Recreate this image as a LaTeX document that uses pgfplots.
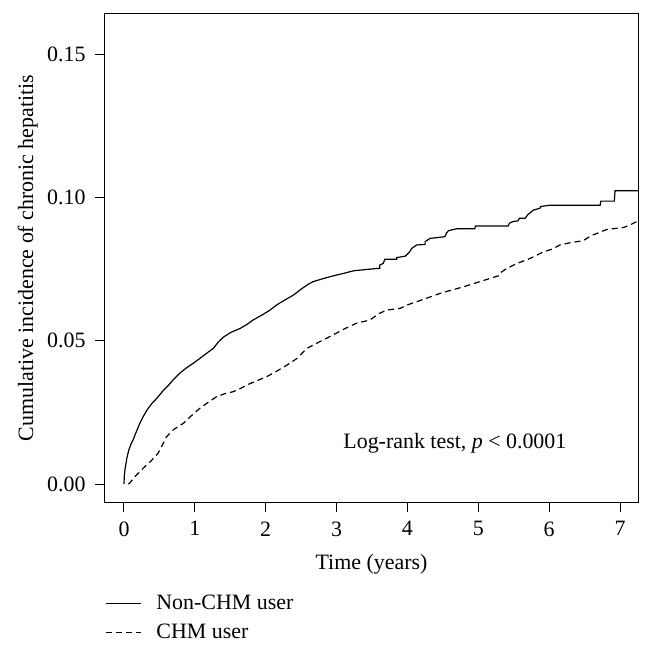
\documentclass[border=0pt]{standalone}
\usepackage{fontspec}
\setmainfont{Liberation Serif}
\usepackage{pgfplots}
\pgfplotsset{compat=1.18}
\begin{document}
\begin{tikzpicture}[font=\fontsize{22}{26}\selectfont]
\useasboundingbox (-105bp,-148bp) rectangle (548bp,502bp);
\begin{axis}[
  at={(0,0)}, anchor=south west,
  width=533bp, height=488bp, scale only axis,
  xmin=-0.268, xmax=7.254, ymin=-0.00628, ymax=0.164,
  xtick={0,1,2,3,4,5,6,7},
  ytick={0,0.05,0.10,0.15},
  scaled y ticks=false,
  yticklabel style={xshift=-6bp, /pgf/number format/.cd, fixed, fixed zerofill, precision=2},
  /pgf/number format/assume math mode=true,
  xticklabel style={yshift=-6bp},
  tick align=outside, major tick length=10bp,
  tick pos=left,
  axis line style={line width=1bp},
  tick style={line width=1bp, black},
  xlabel={Time (years)},
  xlabel style={at={(axis description cs:0.5,-0.1373)}, anchor=base},
  ylabel={Cumulative incidence of chronic hepatitis},
  ylabel style={at={(axis description cs:-0.135,0.5)}, anchor=base},
  legend cell align=left,
  legend style={draw=none, fill=none, at={(axis description cs:0,-0.1885)}, anchor=north west,
    inner sep=0pt, row sep=10bp, column sep=15bp,
    nodes={inner sep=0pt, text height=15bp, text depth=4bp}},
  legend image code/.code={\draw[#1] (0bp,0bp) -- (35bp,0bp);},
]
\addplot[black, line width=1.2bp, sharp plot] coordinates {
(0,0) (0.005,0.003) (0.02,0.006) (0.04,0.009) (0.07,0.012) (0.10,0.014) (0.13,0.0155)
(0.17,0.018) (0.22,0.021) (0.27,0.0235) (0.33,0.026) (0.39,0.028) (0.44,0.0293)
(0.5,0.031) (0.56,0.0328) (0.63,0.0345) (0.70,0.0365) (0.78,0.0385) (0.88,0.0405)
(0.97,0.042) (1.07,0.0438) (1.16,0.0455) (1.26,0.0473) (1.33,0.0495) (1.40,0.0512)
(1.50,0.0528) (1.64,0.0543) (1.73,0.0556) (1.82,0.0572) (1.95,0.0590) (2.05,0.0605)
(2.15,0.0624) (2.27,0.0642) (2.39,0.0659) (2.5,0.0680) (2.6,0.0697) (2.67,0.0706)
(2.8,0.0716) (2.95,0.0726) (3.1,0.0735) (3.24,0.0744) (3.4,0.0748) (3.57,0.0752)
(3.61,0.0752) (3.61,0.0764) (3.66,0.0770) (3.68,0.0784) (3.85,0.0784) (3.85,0.0790)
(3.97,0.0795) (4.03,0.0810) (4.06,0.0822) (4.13,0.0834) (4.25,0.0836) (4.25,0.0846)
(4.32,0.0857) (4.53,0.0863) (4.55,0.0875) (4.58,0.0884) (4.70,0.0891) (4.95,0.0891)
(4.96,0.0900) (5.42,0.0900) (5.44,0.0910) (5.49,0.0916) (5.56,0.0918) (5.58,0.0927)
(5.66,0.0927) (5.70,0.0940) (5.78,0.0956) (5.87,0.0962) (5.88,0.0968) (6.01,0.0973)
(6.72,0.0973) (6.73,0.0987) (6.92,0.0987) (6.93,0.1023) (7.254,0.1023)
};
\addlegendentry{Non-CHM user}
\addplot[black, line width=1.2bp, dash pattern=on 6bp off 4bp, sharp plot] coordinates {
(0.06,0) (0.08,0.0003) (0.15,0.0025) (0.27,0.0055) (0.38,0.008) (0.48,0.0107)
(0.55,0.014) (0.60,0.0165) (0.70,0.019) (0.84,0.0212) (0.95,0.0238) (1.07,0.0264)
(1.2,0.0287) (1.31,0.0305) (1.42,0.0315) (1.54,0.0322) (1.65,0.0334) (1.73,0.0345)
(1.87,0.036) (2.01,0.0374) (2.15,0.0393) (2.30,0.0415) (2.44,0.0438) (2.58,0.0473)
(2.75,0.0495) (2.95,0.0520) (3.1,0.054) (3.28,0.0561) (3.47,0.0572) (3.6,0.0595)
(3.71,0.0607) (3.90,0.0613) (3.99,0.0624) (4.2,0.0642) (4.46,0.0665) (4.6,0.0675)
(4.79,0.0688) (5.02,0.0706) (5.28,0.0726) (5.33,0.0740) (5.40,0.0752) (5.55,0.077)
(5.73,0.0787) (5.92,0.0810) (6.05,0.082) (6.15,0.0834) (6.3,0.0842) (6.48,0.0849)
(6.55,0.086) (6.62,0.0869) (6.81,0.0888) (7.05,0.0895) (7.15,0.0905) (7.254,0.0918)
};
\addlegendentry{CHM user}
\node at (axis cs:4.67,0.0143) {Log-rank test, \textit{p} \textless{} 0.0001};
\end{axis}
\end{tikzpicture}
\end{document}
